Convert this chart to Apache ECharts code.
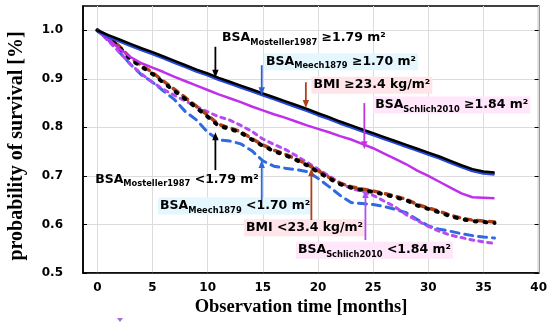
<!DOCTYPE html>
<html><head><meta charset="utf-8">
<script src="https://cdn.jsdelivr.net/npm/echarts@6/dist/echarts.min.js"></script>
<style>html,body{margin:0;padding:0;background:#fff}#c{width:550px;height:327px}</style>
</head><body><div id="c"></div>
<script>
const months = [0,1,2,3,4,5,6,7,8,9,10,11,12,13,14,15,16,17,18,19,20,21,22,23,24,25,26,27,28,29,30,31,32,33,34,35,36];
const mostellerHigh = [1.0,0.990,0.981,0.972,0.963,0.955,0.946,0.937,0.928,0.919,0.911,0.902,0.894,0.886,0.878,0.870,0.862,0.854,0.846,0.838,0.829,0.821,0.812,0.804,0.796,0.788,0.780,0.772,0.764,0.756,0.748,0.740,0.731,0.722,0.714,0.709,0.707];
const meechHigh = [1.0,0.987,0.978,0.969,0.960,0.952,0.943,0.934,0.925,0.916,0.908,0.899,0.891,0.883,0.875,0.867,0.859,0.851,0.843,0.835,0.826,0.818,0.809,0.801,0.793,0.785,0.777,0.769,0.761,0.753,0.745,0.737,0.728,0.719,0.711,0.706,0.704];
const bmiHigh = [1.0,0.988,0.979,0.970,0.961,0.953,0.944,0.935,0.926,0.917,0.909,0.900,0.892,0.884,0.876,0.868,0.860,0.852,0.844,0.836,0.827,0.819,0.810,0.802,0.794,0.786,0.778,0.770,0.762,0.754,0.746,0.738,0.729,0.720,0.712,0.707,0.705];
const schlichHigh = [1.0,0.982,0.962,0.945,0.932,0.923,0.914,0.904,0.895,0.886,0.877,0.868,0.860,0.852,0.843,0.835,0.827,0.820,0.812,0.804,0.797,0.790,0.782,0.775,0.766,0.757,0.746,0.735,0.724,0.711,0.700,0.688,0.676,0.664,0.656,0.655,0.654];
const mostellerLow = [1.0,0.985,0.965,0.940,0.925,0.910,0.892,0.875,0.858,0.840,0.822,0.803,0.797,0.789,0.775,0.762,0.751,0.743,0.733,0.722,0.708,0.695,0.683,0.676,0.671,0.667,0.662,0.656,0.650,0.639,0.632,0.625,0.617,0.611,0.607,0.605,0.603];
const bmiLow = [1.0,0.986,0.967,0.943,0.928,0.913,0.895,0.878,0.861,0.843,0.825,0.806,0.799,0.791,0.777,0.764,0.753,0.745,0.735,0.724,0.711,0.697,0.685,0.678,0.673,0.669,0.664,0.658,0.652,0.641,0.634,0.627,0.619,0.613,0.609,0.607,0.605];
const meechLow = [1.0,0.980,0.955,0.930,0.908,0.893,0.875,0.857,0.832,0.815,0.790,0.774,0.772,0.766,0.752,0.731,0.720,0.716,0.713,0.709,0.695,0.678,0.660,0.645,0.643,0.641,0.637,0.631,0.624,0.610,0.597,0.590,0.586,0.581,0.577,0.574,0.572];
const schlichLow = [1.0,0.978,0.955,0.930,0.910,0.893,0.878,0.866,0.854,0.843,0.832,0.822,0.815,0.804,0.792,0.776,0.765,0.755,0.742,0.728,0.714,0.700,0.686,0.674,0.668,0.660,0.648,0.636,0.620,0.608,0.596,0.586,0.578,0.573,0.568,0.564,0.561];
const xTicks = [0,5,10,15,20,25,30,35,40];
const yTicks = [0.5,0.6,0.7,0.8,0.9,1.0];

// annotation labels: rich text, colour, background, anchor (t, p)
const labelTexts = [
  '{a|BSA}{s|Mosteller1987}{a| ≥1.79 m²}',
  '{a|BSA}{s|Meech1879}{a| ≥1.70 m²}',
  '{a|BMI ≥23.4 kg/m²}',
  '{a|BSA}{s|Schlich2010}{a| ≥1.84 m²}',
  '{a|BSA}{s|Mosteller1987}{a| <1.79 m²}',
  '{a|BSA}{s|Meech1879}{a| <1.70 m²}',
  '{a|BMI <23.4 kg/m²}',
  '{a|BSA}{s|Schlich2010}{a| <1.84 m²}'
];
const labelColors = ['#000000','#2f5fd6','#cc2a10','#c236e0','#000000','#2f6ad8','#d02a10','#c236e0'];
const labelBgs = [null,'#e4f7ff','#ffe4ea','#ffe6fa',null,'#e4f7ff','#ffe4ea','#ffe6fa'];
const labelT = [11.3, 15.1, 19.4, 25.0, -0.2, 5.5, 13.3, 18.0];
const labelP = [0.984, 0.935, 0.887, 0.846, 0.692, 0.638, 0.593, 0.547];
// arrows: t, p from, p to (head at "to")
const arrowColors = ['#000000','#2f5fd6','#b0401a','#c236e0','#000000','#2f6ad8','#b0401a','#b050f0'];
const arrowT = [10.7, 14.9, 18.9, 24.2, 10.7, 14.9, 19.4, 24.3];
const arrowFrom = [0.966, 0.928, 0.893, 0.850, 0.712, 0.650, 0.609, 0.568];
const arrowTo = [0.902, 0.866, 0.840, 0.755, 0.790, 0.733, 0.716, 0.671];

const chart = echarts.init(document.getElementById('c'), null, {renderer:'canvas'});
function pts(v){ return months.map((m,i)=>[m, v[i]]); }
function solid(name, v, color, w, z){
  return {name, type:'line', data:pts(v), showSymbol:false, symbol:'none', lineStyle:{color, width:w}, z};
}
function dash(name, v, color, w, pattern){
  return {name, type:'line', data:pts(v), showSymbol:false, symbol:'none', lineStyle:{color, width:w, type:pattern, cap:'round'}, z:2};
}
const tickFont = {fontFamily:'DejaVu Sans', fontWeight:'bold', fontSize:12, color:'#000'};
chart.setOption({
  animation:false,
  backgroundColor:'#fff',
  grid:{left:83, right:10, top:6, bottom:54, show:true, borderColor:'#000', borderWidth:1.5},
  xAxis:{type:'value', min:-1.3, max:40,
    axisLine:{show:true, onZero:false, lineStyle:{color:'#000', width:1.5}},
    axisTick:{show:false, customValues:xTicks},
    axisLabel:Object.assign({customValues:xTicks, margin:9}, tickFont),
    splitLine:{show:true, lineStyle:{color:'#dcdcdc', width:1}}},
  yAxis:[{type:'value', min:0.5, max:1.05,
    axisLine:{show:true, onZero:false, lineStyle:{color:'#000', width:1.5}},
    axisTick:{show:true, inside:true, length:4, customValues:yTicks, lineStyle:{color:'#000'}},
    axisLabel:Object.assign({customValues:yTicks, margin:20, formatter:v=>v.toFixed(1)}, tickFont),
    splitLine:{show:true, lineStyle:{color:'#dcdcdc', width:1}}},
   {type:'value', min:0.5, max:1.05, position:'right',
    axisLine:{show:false, onZero:false}, axisLabel:{show:false}, splitLine:{show:false},
    axisTick:{show:true, inside:true, length:4, customValues:yTicks, lineStyle:{color:'#000'}}}],
  series:[
    dash('BSA Meech1879 <1.70', meechLow, '#2f6ae0', 3, [8,6]),
    dash('BSA Schlich2010 <1.84', schlichLow, '#b44cf0', 3, [4,5]),
    dash('BMI <23.4', bmiLow, '#b0401a', 3.5, [6,6]),
    dash('BSA Mosteller1987 <1.79', mostellerLow, '#000000', 4, [2,8]),
    solid('BSA Schlich2010 >=1.84', schlichHigh, '#c030ec', 2.5, 3),
    solid('BMI >=23.4', bmiHigh, '#b0401a', 3, 3),
    solid('BSA Meech1879 >=1.70', meechHigh, '#2448d8', 3.5, 4),
    solid('BSA Mosteller1987 >=1.79', mostellerHigh, '#000000', 2.5, 5)
  ]
});

const g = [];
const conv = (t,p)=>chart.convertToPixel({gridIndex:0},[t,p]);
for (let i=0;i<labelTexts.length;i++){
  const pos = conv(labelT[i], labelP[i]);
  const st = {text:labelTexts[i], x:pos[0], y:pos[1], verticalAlign:'middle', align:'left',
    rich:{a:{fontFamily:'DejaVu Sans', fontWeight:'bold', fontSize:12.5, lineHeight:17, color:labelColors[i]},
          s:{fontFamily:'DejaVu Sans', fontWeight:'bold', fontSize:8.3, lineHeight:9, verticalAlign:'bottom', color:labelColors[i]}}};
  if (labelBgs[i]) { st.backgroundColor = labelBgs[i]; st.padding=[0,2]; }
  g.push({type:'text', z:10, style:st});
}
for (let i=0;i<arrowT.length;i++){
  const a = conv(arrowT[i], arrowFrom[i]);
  const b = conv(arrowT[i], arrowTo[i]);
  const dir = b[1] > a[1] ? 1 : -1;
  g.push({type:'line', z:11, shape:{x1:a[0], y1:a[1], x2:b[0], y2:b[1]-dir*6}, style:{stroke:arrowColors[i], lineWidth:1.8}});
  g.push({type:'polygon', z:11, shape:{points:[[b[0],b[1]],[b[0]-3.2,b[1]-dir*8],[b[0]+3.2,b[1]-dir*8]]}, style:{fill:arrowColors[i]}});
}
g.push({type:'text', z:10, style:{text:'probability of survival [%]', x:17, y:146, align:'center', verticalAlign:'middle',
  fontFamily:'Liberation Serif', fontWeight:'bold', fontSize:20, fill:'#000'}, rotation:Math.PI/2, originX:17, originY:146});
g.push({type:'text', z:10, style:{text:'Observation time [months]', x:301, y:307, align:'center', verticalAlign:'middle',
  fontFamily:'Liberation Serif', fontWeight:'bold', fontSize:18.5, fill:'#000'}});
g.push({type:'polygon', z:10, shape:{points:[[117,318],[123,318],[120,322]]}, style:{fill:'#a070d0'}});
chart.setOption({graphic:g});
</script></body></html>
